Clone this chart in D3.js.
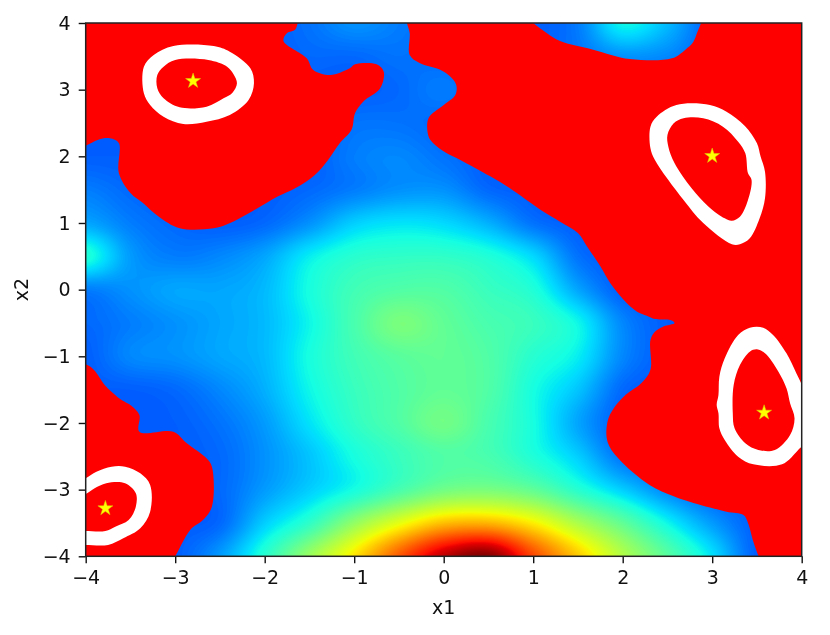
<!DOCTYPE html>
<html><head><meta charset="utf-8">
<script src="https://cdn.jsdelivr.net/npm/d3@7/dist/d3.min.js"></script>
<style>
html,body{margin:0;padding:0;background:#fff}
svg{display:block;filter:blur(0.45px)}
text{font-family:"DejaVu Sans";fill:#111}
</style></head><body>
<svg id="c" width="830" height="635"></svg>
<script>
// heat field: rows x2 = 4 .. -4 (step .5), columns x1 = -4 .. 4 (step .5), jet-normalised
const x1Grid = [-4,-3.5,-3,-2.5,-2,-1.5,-1,-.5,0,.5,1,1.5,2,2.5,3,3.5,4];
const x2Grid = [4,3.5,3,2.5,2,1.5,1,.5,0,-.5,-1,-1.5,-2,-2.5,-3,-3.5,-4];
const heat = [
[.22,.22,.22,.22,.22,.24,.27,.25,.23,.22,.22,.25,.37,.31,.22,.22,.22],
[.22,.22,.22,.22,.22,.23,.23,.24,.23,.22,.22,.24,.27,.26,.22,.22,.22],
[.22,.22,.22,.22,.22,.22,.22,.23,.25,.22,.22,.22,.22,.22,.22,.22,.22],
[.22,.22,.22,.22,.22,.22,.24,.24,.23,.22,.22,.22,.22,.22,.22,.22,.22],
[.22,.22,.22,.22,.22,.22,.25,.26,.24,.22,.22,.22,.22,.22,.22,.22,.22],
[.25,.23,.22,.22,.22,.23,.25,.27,.27,.23,.22,.22,.22,.22,.22,.22,.22],
[.29,.25,.23,.22,.23,.27,.33,.35,.34,.30,.24,.22,.22,.22,.22,.22,.22],
[.39,.28,.25,.26,.29,.36,.40,.41,.41,.39,.34,.24,.22,.22,.22,.22,.22],
[.25,.27,.29,.29,.31,.38,.43,.45,.45,.42,.39,.29,.22,.22,.22,.22,.22],
[.23,.25,.27,.29,.31,.37,.44,.50,.47,.44,.42,.37,.26,.22,.22,.22,.22],
[.22,.26,.27,.29,.31,.38,.43,.46,.47,.45,.40,.36,.26,.22,.22,.22,.22],
[.22,.22,.23,.26,.30,.37,.42,.45,.47,.45,.38,.32,.23,.22,.22,.22,.22],
[.22,.22,.22,.24,.28,.35,.41,.45,.49,.44,.38,.29,.22,.22,.22,.22,.22],
[.22,.22,.22,.23,.27,.32,.38,.42,.45,.44,.39,.33,.24,.22,.22,.22,.22],
[.22,.22,.22,.23,.28,.33,.38,.44,.49,.50,.47,.40,.33,.26,.22,.22,.22],
[.22,.22,.22,.23,.33,.41,.53,.63,.71,.72,.66,.56,.47,.37,.28,.22,.22],
[.22,.22,.22,.28,.40,.54,.67,.82,.95,1,.84,.70,.57,.46,.35,.22,.22]
];
// masked (red) regions, as [x1,x2] outlines
const redTopLeft = [[-1.63,4],[-1.66,3.9],[-1.75,3.85],[-1.79,3.73],[-1.53,3.47],[-1.46,3.3],[-1.27,3.22],[-1.05,3.32],[-.99,3.38],[-.75,3.38],[-.67,3.27],[-.71,3.02],[-.9,2.82],[-.99,2.65],[-1.03,2.4],[-1.16,2.2],[-1.29,1.95],[-1.44,1.72],[-1.66,1.52],[-1.85,1.4],[-2.11,1.2],[-2.42,.98],[-2.57,.92],[-2.95,.92],[-3.19,1.1],[-3.36,1.3],[-3.5,1.45],[-3.63,1.75],[-3.63,2.2],[-3.73,2.27],[-3.86,2.25],[-4,2.16],[-4.1,2.12],[-4.1,4.1],[-1.6,4.1]];
const redRight = [[-.41,4.1],[-.41,4],[-.38,3.85],[-.38,3.52],[-.27,3.4],[-.04,3.3],[.07,3.2],[.14,3.07],[.13,2.92],[0,2.77],[-.17,2.57],[-.17,2.3],[-.12,2.2],[.03,2.05],[.18,1.95],[.52,1.7],[.74,1.52],[1.08,1.2],[1.3,1.02],[1.5,.85],[1.6,.65],[1.75,.35],[1.86,.1],[2.01,-.15],[2.16,-.33],[2.27,-.39],[2.36,-.44],[2.53,-.455],[2.58,-.5],[2.45,-.555],[2.36,-.63],[2.31,-.755],[2.31,-1.2],[2.21,-1.4],[2.03,-1.58],[1.9,-1.78],[1.83,-1.98],[1.83,-2.28],[1.95,-2.53],[2.3,-2.93],[2.57,-3.1],[2.79,-3.2],[3.16,-3.33],[3.35,-3.38],[3.4,-3.5],[3.46,-3.78],[3.52,-4],[3.56,-4.1],[4.1,-4.1],[4.1,4.1],[2.9,4.1],[2.875,4],[2.83,3.85],[2.79,3.72],[2.7,3.6],[2.55,3.47],[2.08,3.46],[1.67,3.6],[1.3,3.73],[1.15,3.85],[1,4],[.9,4.1]];
const redBottomLeft = [[-4.1,-1.1],[-4,-1.12],[-3.91,-1.2],[-3.78,-1.44],[-3.67,-1.58],[-3.6,-1.655],[-3.49,-1.74],[-3.4,-1.88],[-3.4,-2.13],[-3.02,-2.13],[-2.87,-2.305],[-2.65,-2.53],[-2.59,-2.655],[-2.59,-3.255],[-2.69,-3.455],[-2.83,-3.6],[-3,-4],[-3.05,-4.1],[-4.1,-4.1]];
// white rings: outer and inner outlines
const ring1Outer = [[-3.02,3.655],[-2.57,3.655],[-2.39,3.57],[-2.16,3.32],[-2.12,3.095],[-2.18,2.845],[-2.39,2.62],[-2.65,2.52],[-2.91,2.485],[-3.13,2.595],[-3.28,2.77],[-3.35,2.945],[-3.35,3.345],[-3.24,3.52]];
const ring1Inner = [[-3,3.445],[-2.63,3.445],[-2.42,3.345],[-2.35,3.235],[-2.31,3.095],[-2.36,2.955],[-2.46,2.87],[-2.65,2.745],[-2.95,2.735],[-3.13,2.87],[-3.2,3.02],[-3.2,3.22],[-3.13,3.345]];
const ring2Outer = [[2.6,2.77],[2.975,2.77],[3.16,2.67],[3.365,2.455],[3.5,2.195],[3.54,2],[3.59,1.77],[3.59,1.37],[3.53,1.07],[3.42,.77],[3.31,.68],[3.22,.68],[2.9,1],[2.68,1.345],[2.36,1.945],[2.31,2.12],[2.31,2.445],[2.38,2.595]];
const ring2Inner = [[2.68,2.57],[2.9,2.57],[3.12,2.445],[3.29,2.22],[3.37,2.045],[3.4,1.745],[3.44,1.645],[3.4,1.345],[3.31,1.095],[3.22,1.035],[3.14,1.07],[2.96,1.245],[2.77,1.52],[2.58,1.895],[2.51,2.145],[2.5,2.32],[2.57,2.495]];
const ring3Outer = [[3.42,-.57],[3.57,-.57],[3.68,-.68],[3.83,-.955],[3.94,-1.255],[4.02,-1.505],[4.05,-1.9],[4.02,-2.305],[3.96,-2.405],[3.78,-2.62],[3.46,-2.62],[3.29,-2.505],[3.14,-2.255],[3.08,-2.08],[3.07,-1.855],[3.05,-1.73],[3.07,-1.58],[3.08,-1.305],[3.14,-1.03],[3.29,-.68]];
const ring3Inner = [[3.5,-.895],[3.59,-.955],[3.74,-1.23],[3.83,-1.48],[3.87,-1.705],[3.92,-1.93],[3.87,-2.18],[3.7,-2.405],[3.515,-2.405],[3.37,-2.305],[3.25,-2.08],[3.23,-1.855],[3.24,-1.43],[3.31,-1.13],[3.42,-.93]];
const ring4Outer = [[-4.1,-2.9],[-4,-2.83],[-3.88,-2.73],[-3.71,-2.655],[-3.56,-2.655],[-3.39,-2.755],[-3.28,-2.93],[-3.28,-3.33],[-3.39,-3.58],[-3.58,-3.73],[-3.75,-3.83],[-4,-3.83],[-4.1,-3.83]];
const ring4Inner = [[-4.1,-3.1],[-4,-3.065],[-3.9,-2.98],[-3.77,-2.905],[-3.56,-2.905],[-3.44,-3.055],[-3.44,-3.255],[-3.52,-3.455],[-3.67,-3.555],[-3.78,-3.62],[-4,-3.62],[-4.1,-3.62]];
const starsX1 = [-2.8,3.0,3.58,-3.78];
const starsX2 = [3.13,2.005,-1.845,-3.28];
const tickVals = [-4,-3,-2,-1,0,1,2,3,4];
const xLabel = "x1", yLabel = "x2";

const x = d3.scaleLinear().domain([-4,4]).range([85.7,801.7]);
const y = d3.scaleLinear().domain([-4,4]).range([556.3,23]);
const svg = d3.select("#c");
svg.append("defs").append("clipPath").attr("id","plot").append("rect")
  .attr("x",x(-4)).attr("y",y(4)).attr("width",x(4)-x(-4)).attr("height",y(-4)-y(4));
const plot = svg.append("g").attr("clip-path","url(#plot)");

// matplotlib "jet" colormap
const chan = (d,r)=>d3.scaleLinear().domain(d).range(r).clamp(true);
const R = chan([0,.35,.66,.89,1],[0,0,1,1,.5]);
const G = chan([0,.125,.375,.64,.91,1],[0,0,1,1,0,0]);
const B = chan([0,.11,.34,.65,1],[.5,1,1,0,0]);
const jet = v=>`rgb(${Math.round(R(v)*255)},${Math.round(G(v)*255)},${Math.round(B(v)*255)})`;

// smooth the rendering between grid samples (Catmull-Rom), for display only
const SUB = 10, ny = heat.length, nx = heat[0].length;
const cr = (a,b,c,d,t)=>.5*(2*b+(c-a)*t+(2*a-5*b+4*c-d)*t*t+(3*b-a-3*c+d)*t*t*t);
const at = (j,i)=>heat[Math.max(0,Math.min(ny-1,j))][Math.max(0,Math.min(nx-1,i))];
const W = (nx-1)*SUB+1, H = (ny-1)*SUB+1, fine = new Float64Array(W*H);
for(let h=0;h<H;h++)for(let w=0;w<W;w++){
  const fj=h/SUB,fi=w/SUB,j=Math.min(ny-2,Math.floor(fj)),i=Math.min(nx-2,Math.floor(fi)),tj=fj-j,ti=fi-i;
  const col=[-1,0,1,2].map(dj=>cr(at(j+dj,i-1),at(j+dj,i),at(j+dj,i+1),at(j+dj,i+2),ti));
  fine[h*W+w]=cr(col[0],col[1],col[2],col[3],tj);
}
const levels = d3.range(.12,1.005,.005);
const sx = d3.scaleLinear().domain([.5,W-.5]).range([x1Grid[0],x1Grid[nx-1]]);
const sy = d3.scaleLinear().domain([.5,H-.5]).range([x2Grid[0],x2Grid[ny-1]]);
const proj = d3.geoTransform({point(a,b){this.stream.point(x(sx(a)),y(sy(b)));}});
const gp = d3.geoPath(proj);
plot.append("rect").attr("x",x(-4)).attr("y",y(4)).attr("width",x(4)-x(-4)).attr("height",y(-4)-y(4)).attr("fill",jet(.12));
plot.append("g").selectAll("path").data(d3.contours().size([W,H]).thresholds(levels)(Array.from(fine)))
  .join("path").attr("d",gp).attr("fill",d=>jet(d.value));

const round = d3.line().x(d=>x(d[0])).y(d=>y(d[1])).curve(d3.curveCatmullRomClosed.alpha(.5));
plot.append("g").selectAll("path").data([redTopLeft,redRight,redBottomLeft]).join("path")
  .attr("d",d=>round(d)).attr("fill","#ff0000");
[[ring1Outer,ring1Inner],[ring2Outer,ring2Inner],[ring3Outer,ring3Inner],[ring4Outer,ring4Inner]].forEach(([o,i])=>{
  plot.append("path").attr("d",round(o)).attr("fill","#fff");
  plot.append("path").attr("d",round(i)).attr("fill","#ff0000");
});
plot.append("g").selectAll("path").data(starsX1.map((v,k)=>[v,starsX2[k]])).join("path")
  .attr("d",d3.symbol(d3.symbolStar,70)).attr("transform",d=>`translate(${x(d[0])},${y(d[1])})`)
  .attr("fill","#ffff00").attr("stroke","#d8d000").attr("stroke-width",.5);

// axes
const fs = 19;
const xa = svg.append("g").attr("transform",`translate(0,${y(-4)})`).call(d3.axisBottom(x).tickValues(tickVals).tickSize(7).tickPadding(7));
const ya = svg.append("g").attr("transform",`translate(${x(-4)},0)`).call(d3.axisLeft(y).tickValues(tickVals).tickSize(7).tickPadding(8));
[xa,ya].forEach(g=>{
  g.selectAll("text").attr("font-size",fs).attr("font-family","DejaVu Sans").attr("fill","#111");
  g.selectAll("line").attr("stroke","#111").attr("stroke-width",1.4);
  g.select(".domain").remove();
});
svg.append("rect").attr("x",x(-4)).attr("y",y(4)).attr("width",x(4)-x(-4)).attr("height",y(-4)-y(4))
  .attr("fill","none").attr("stroke","#222").attr("stroke-width",1.5);
svg.append("text").attr("x",x(0)).attr("y",614).attr("text-anchor","middle").attr("font-size",fs).text(xLabel);
svg.append("text").attr("transform",`translate(28,${y(0)}) rotate(-90)`).attr("text-anchor","middle").attr("font-size",fs).text(yLabel);
</script></body></html>
